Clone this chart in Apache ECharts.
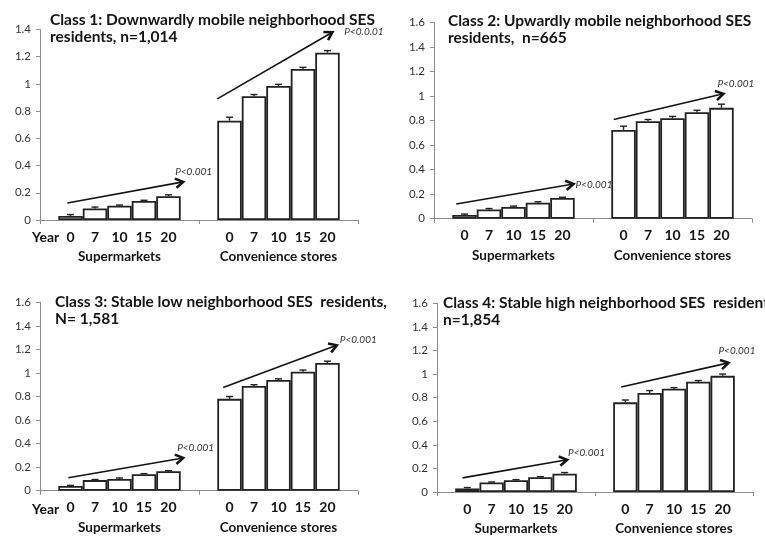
<!DOCTYPE html>
<html>
<head>
<meta charset="utf-8">
<script src="https://cdn.jsdelivr.net/npm/echarts@6/dist/echarts.min.js"></script>
<style>
html, body { margin: 0; padding: 0; background: #fff; }
#chart { width: 765px; height: 536px; }
</style>
</head>
<body>
<div id="chart"></div>
<script>
const years = ['0', '7', '10', '15', '20'];
const groups = ['Supermarkets', 'Convenience stores'];
const titles = [
    'Class 1: Downwardly mobile neighborhood SES\nresidents, n=1,014',
    'Class 2: Upwardly mobile neighborhood SES\nresidents,  n=665',
    'Class 3: Stable low neighborhood SES  residents,\nN= 1,581',
    'Class 4: Stable high neighborhood SES  residents,\nn=1,854'
];
const yMax = [1.4, 1.6, 1.6, 1.6];

// mean value per year, one row per class
const superMeans = [
    [0.03, 0.085, 0.105, 0.14, 0.175],
    [0.03, 0.075, 0.095, 0.13, 0.17],
    [0.04, 0.09, 0.10, 0.14, 0.165],
    [0.03, 0.08, 0.10, 0.125, 0.155]
];
const convMeans = [
    [0.73, 0.91, 0.985, 1.11, 1.23],
    [0.725, 0.795, 0.82, 0.87, 0.905],
    [0.78, 0.89, 0.94, 1.01, 1.085],
    [0.76, 0.84, 0.875, 0.935, 0.985]
];
const superErr = [
    [0.01, 0.01, 0.005, 0.005, 0.01],
    [0.008, 0.008, 0.008, 0.008, 0.005],
    [0.005, 0.005, 0.008, 0.005, 0.005],
    [0.008, 0.005, 0.005, 0.005, 0.01]
];
const convErr = [
    [0.025, 0.012, 0.012, 0.012, 0.015],
    [0.03, 0.015, 0.015, 0.015, 0.03],
    [0.02, 0.01, 0.01, 0.015, 0.015],
    [0.02, 0.02, 0.01, 0.01, 0.015]
];
// trend arrows: start level, end level
const superArrow = [[0.125, 0.28], [0.12, 0.283], [0.11, 0.278], [0.12, 0.273]];
const convArrow = [[0.89, 1.38], [0.81, 1.02], [0.876, 1.235], [0.89, 1.095]];
const superP = ['P<0.001', 'P<0.001', 'P<0.001', 'P<0.001'];
const convP = ['P<0.0.01', 'P<0.001', 'P<0.001', 'P<0.001'];

// layout
const grids = [
    { left: 40, top: 29.5, width: 318, height: 190.5 },
    { left: 434, top: 22.7, width: 318, height: 196 },
    { left: 40, top: 302.3, width: 318, height: 188.4 },
    { left: 437, top: 303.3, width: 316, height: 190 }
];
const titlePos = [[50, 11], [448, 12], [55, 293], [443, 294]];
const gapRatio = 0.23;
// arrow x span in bar widths from group centre: [supStart, supEnd, convStart, convEnd]
const arrowSpan = [
    [-2.13, 2.6, -2.5, 2.2],
    [-2.34, 2.45, -2.4, 2.08],
    [-2.09, 2.6, -2.26, 2.38],
    [-2.2, 2.1, -2.17, 2.24]
];
// p-label offset from arrow tip: [supDx, supDy, convDx, convDy]
const pOffset = [
    [-8, -10, 12, 0],
    [2, 1, -6, -10],
    [-6, -10, 3, -5],
    [1, -7, -10, -12]
];

const FONT = 'Lato, "Open Sans", sans-serif';
const INK = '#141414';

const chart = echarts.init(document.getElementById('chart'));

const title = titles.map((t, i) => ({
    text: t,
    left: titlePos[i][0],
    top: titlePos[i][1],
    padding: 0,
    textStyle: { fontFamily: FONT, fontWeight: 'bold', fontSize: 15.5, lineHeight: 17, color: INK }
}));

const xAxis = grids.map((g, i) => ({
    type: 'category',
    gridIndex: i,
    data: groups,
    axisLine: { lineStyle: { color: '#8c8c8c', width: 1 } },
    axisTick: { show: true, length: 4, lineStyle: { color: '#8c8c8c' } },
    axisLabel: { margin: 30, fontFamily: FONT, fontWeight: 'bold', fontSize: 13.5, color: INK }
}));

const yAxis = grids.map((g, i) => ({
    type: 'value',
    gridIndex: i,
    min: 0,
    max: yMax[i],
    interval: 0.2,
    splitLine: { show: false },
    axisLine: { show: true, lineStyle: { color: '#8c8c8c', width: 1 } },
    axisTick: { show: true, length: 4, lineStyle: { color: '#8c8c8c' } },
    axisLabel: { margin: 9, fontFamily: FONT, fontSize: 11.5, color: '#333' }
}));

const series = [];

grids.forEach((g, p) => {
    years.forEach((yr, k) => {
        series.push({
            type: 'bar',
            name: yr,
            xAxisIndex: p,
            yAxisIndex: p,
            data: [superMeans[p][k], convMeans[p][k]],
            barGap: '0%',
            barCategoryGap: (gapRatio * 100) + '%',
            itemStyle: { color: '#fff', borderColor: '#222', borderWidth: 1.8 },
            label: {
                show: true,
                position: 'bottom',
                distance: 10,
                formatter: () => yr,
                fontFamily: FONT,
                fontWeight: 'bold',
                fontSize: 14,
                color: INK
            },
            silent: true
        });
    });

    // error bars, upper half only
    const errData = [];
    years.forEach((yr, k) => {
        errData.push([0, k, superMeans[p][k], superErr[p][k]]);
        errData.push([1, k, convMeans[p][k], convErr[p][k]]);
    });
    series.push({
        type: 'custom',
        xAxisIndex: p,
        yAxisIndex: p,
        z: 5,
        silent: true,
        data: errData,
        encode: { x: 0, y: 2 },
        renderItem: function(params, api) {
            const cat = api.value(0), k = api.value(1), v = api.value(2), e = api.value(3);
            const band = api.size([1, 0])[0];
            const bw = band * (1 - gapRatio) / 5;
            const c0 = api.coord([cat, v]);
            const c1 = api.coord([cat, v + e]);
            const x = c0[0] + (k - 2) * bw;
            const st = { stroke: '#222', lineWidth: 1.4 };
            return {
                type: 'group',
                children: [
                    { type: 'line', shape: { x1: x, y1: c0[1], x2: x, y2: c1[1] }, style: st },
                    { type: 'line', shape: { x1: x - 3.5, y1: c1[1], x2: x + 3.5, y2: c1[1] }, style: st }
                ]
            };
        }
    });

    // trend arrows with p-values
    series.push({
        type: 'custom',
        xAxisIndex: p,
        yAxisIndex: p,
        z: 6,
        silent: true,
        data: [[0, superArrow[p][0], superArrow[p][1]], [1, convArrow[p][0], convArrow[p][1]]],
        encode: { x: 0, y: 1 },
        renderItem: function(params, api) {
            const cat = api.value(0);
            const band = api.size([1, 0])[0];
            const bw = band * (1 - gapRatio) / 5;
            const a = api.coord([cat, api.value(1)]);
            const b = api.coord([cat, api.value(2)]);
            const s0 = arrowSpan[p][cat * 2], s1 = arrowSpan[p][cat * 2 + 1];
            const x0 = a[0] + s0 * bw, y0 = a[1];
            const x1 = b[0] + s1 * bw, y1 = b[1];
            const ang = Math.atan2(y1 - y0, x1 - x0);
            const hl = 9, spread = 0.55;
            const h1 = [x1 - hl * Math.cos(ang - spread), y1 - hl * Math.sin(ang - spread)];
            const h2 = [x1 - hl * Math.cos(ang + spread), y1 - hl * Math.sin(ang + spread)];
            const off = pOffset[p];
            const dx = off[cat * 2], dy = off[cat * 2 + 1];
            const st = { stroke: INK, lineWidth: 1.6, fill: null };
            return {
                type: 'group',
                children: [
                    { type: 'line', shape: { x1: x0, y1: y0, x2: x1, y2: y1 }, style: st },
                    { type: 'polyline', shape: { points: [h1, [x1, y1], h2] }, style: { stroke: INK, lineWidth: 2.6, fill: null } },
                    {
                        type: 'text',
                        x: x1 + dx,
                        y: y1 + dy,
                        style: {
                            text: cat === 0 ? superP[p] : convP[p],
                            fontFamily: FONT,
                            fontStyle: 'italic',
                            fontSize: 10,
                            fill: '#333',
                            align: 'left',
                            verticalAlign: 'middle'
                        }
                    }
                ]
            };
        }
    });
});

chart.setOption({
    animation: false,
    backgroundColor: '#fff',
    title: title,
    grid: grids.map(g => Object.assign({ containLabel: false }, g)),
    xAxis: xAxis,
    yAxis: yAxis,
    series: series,
    graphic: [
        { type: 'text', left: 32, top: 230, style: { text: 'Year', fontFamily: FONT, fontWeight: 'bold', fontSize: 14, fill: INK } },
        { type: 'text', left: 32, top: 502, style: { text: 'Year', fontFamily: FONT, fontWeight: 'bold', fontSize: 14, fill: INK } }
    ]
});

window.addEventListener('resize', function() {
    chart.resize();
});
</script>
</body>
</html>
